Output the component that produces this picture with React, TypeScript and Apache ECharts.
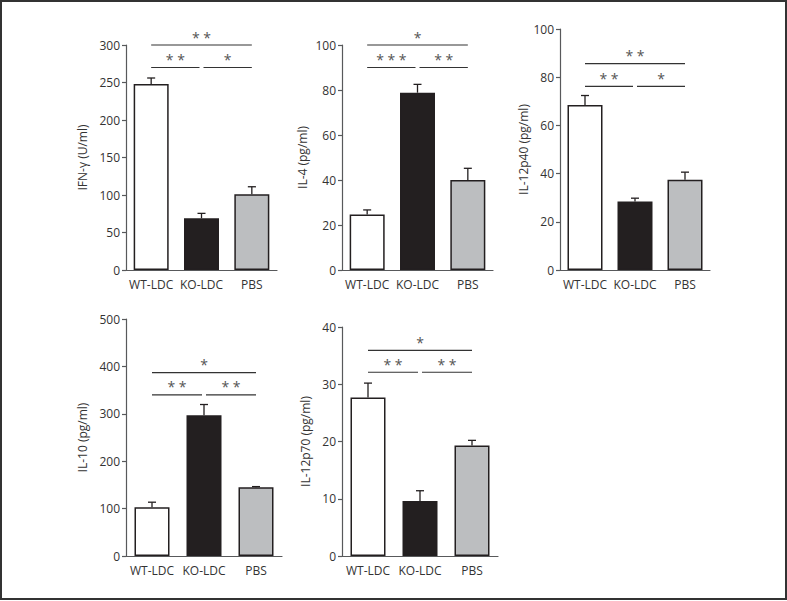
import React, { useEffect, useRef } from "react";
import * as echarts from "echarts";

const categories = ["WT-LDC", "KO-LDC", "PBS"];
const barColors = ["#ffffff", "#231f20", "#bcbec0"];

const yNames = ["IFN-γ (U/ml)", "IL-4 (pg/ml)", "IL-12p40 (pg/ml)", "IL-10 (pg/ml)", "IL-12p70 (pg/ml)"];
const yMax = [300, 100, 100, 500, 40];
const yInterval = [50, 20, 20, 100, 10];

const ifnMeans = [248, 69, 101];
const ifnSem = [8, 6.5, 10];
const il4Means = [24.7, 78.8, 40];
const il4Sem = [2, 3.7, 5.2];
const il12p40Means = [68.5, 28.4, 37.4];
const il12p40Sem = [3.9, 1.4, 3.2];
const il10Means = [103, 297, 145];
const il10Sem = [10.5, 22.6, 1.4];
const il12p70Means = [27.7, 9.6, 19.3];
const il12p70Sem = [2.5, 1.8, 0.9];

const means = [ifnMeans, il4Means, il12p40Means, il10Means, il12p70Means];
const sems = [ifnSem, il4Sem, il12p40Sem, il10Sem, il12p70Sem];

// significance brackets: [from, to, y, label]
const ifnSig: [number, number, number, string][] = [[0, 2, 300, "**"], [0, 1, 270, "**"], [1, 2, 270, "*"]];
const il4Sig: [number, number, number, string][] = [[0, 2, 100, "*"], [0, 1, 90, "***"], [1, 2, 90, "**"]];
const il12p40Sig: [number, number, number, string][] = [[0, 2, 85.6, "**"], [0, 1, 76.2, "**"], [1, 2, 76.2, "*"]];
const il10Sig: [number, number, number, string][] = [[0, 2, 387, "*"], [0, 1, 340, "**"], [1, 2, 340, "**"]];
const il12p70Sig: [number, number, number, string][] = [[0, 2, 35.9, "*"], [0, 1, 32.1, "**"], [1, 2, 32.1, "**"]];
const sigs = [ifnSig, il4Sig, il12p40Sig, il10Sig, il12p70Sig];

const grids = [
  { left: 126, top: 45, width: 151, height: 225 },
  { left: 342, top: 45, width: 151, height: 225 },
  { left: 560, top: 29, width: 150, height: 241 },
  { left: 126, top: 319, width: 156, height: 237 },
  { left: 342, top: 327, width: 156, height: 229 },
];
const nameGaps = [38, 34, 31, 38, 31];

const FONT = "Open Sans";
const AXIS = "#58595b";
const TEXT = "#333333";

export default function App() {
  const ref = useRef<HTMLDivElement>(null);
  useEffect(() => {
    if (!ref.current) return;
    const chart = echarts.init(ref.current, null, { renderer: "svg" });
    const xAxes: any[] = [];
    const yAxes: any[] = [];
    const series: any[] = [];
    grids.forEach((g, i) => {
      xAxes.push({
        type: "category",
        gridIndex: i,
        data: categories,
        axisLine: { lineStyle: { color: AXIS, width: 1.2 } },
        axisTick: { alignWithLabel: true, length: 4, lineStyle: { color: AXIS, width: 1.2 } },
        axisLabel: { interval: 0, fontFamily: FONT, fontSize: 12, color: TEXT, margin: 8 },
      });
      yAxes.push({
        type: "value",
        gridIndex: i,
        min: 0,
        max: yMax[i],
        interval: yInterval[i],
        name: yNames[i],
        nameLocation: "middle",
        nameGap: nameGaps[i],
        nameTextStyle: { fontFamily: FONT, fontSize: 12, color: TEXT },
        splitLine: { show: false },
        axisLine: { show: true, lineStyle: { color: AXIS, width: 1.2 } },
        axisTick: { show: true, length: 4, lineStyle: { color: AXIS, width: 1.2 } },
        axisLabel: { fontFamily: FONT, fontSize: 12, color: TEXT, margin: 6 },
      });
      series.push({
        type: "bar",
        xAxisIndex: i,
        yAxisIndex: i,
        barWidth: 35,
        data: means[i].map((v, k) => ({
          value: v,
          itemStyle: { color: barColors[k], borderColor: "#231f20", borderWidth: 1.5 },
        })),
        z: 2,
      });
      series.push({
        type: "custom",
        xAxisIndex: i,
        yAxisIndex: i,
        data: means[i].map((v, k) => [k, v, v + sems[i][k]]),
        encode: { x: 0, y: [1, 2] },
        z: 1,
        renderItem: (params: any, api: any) => {
          const x = api.value(0);
          const base = api.coord([x, api.value(1)]);
          const top = api.coord([x, api.value(2)]);
          const style = { stroke: "#231f20", lineWidth: 1.3 };
          return {
            type: "group",
            children: [
              { type: "line", shape: { x1: base[0], y1: base[1], x2: top[0], y2: top[1] }, style },
              { type: "line", shape: { x1: top[0] - 4, y1: top[1], x2: top[0] + 4, y2: top[1] }, style },
            ],
          };
        },
      });
      const sig = sigs[i];
      series.push({
        type: "custom",
        xAxisIndex: i,
        yAxisIndex: i,
        data: sig.map((s) => [s[0], s[1], s[2]]),
        encode: { x: [0, 1], y: 2 },
        z: 3,
        renderItem: (params: any, api: any) => {
          const from = api.value(0);
          const to = api.value(1);
          const yv = api.value(2);
          const p1 = api.coord([from, yv]);
          const p2 = api.coord([to, yv]);
          const x1 = p1[0] + (from > 0 ? 2 : 0);
          const x2 = p2[0] - (to < 2 ? 2 : 0);
          const label = sig[params.dataIndex][3];
          return {
            type: "group",
            children: [
              { type: "line", shape: { x1, y1: p1[1], x2, y2: p2[1] }, style: { stroke: "#333", lineWidth: 1.2 } },
              {
                type: "text",
                x: (x1 + x2) / 2,
                y: p1[1] - 1,
                style: {
                  text: label.split("").join(" "),
                  fontFamily: FONT,
                  fontSize: 14,
                  fill: "#555",
                  align: "center",
                  verticalAlign: "bottom",
                },
              },
            ],
          };
        },
      });
    });
    chart.setOption({
      animation: false,
      backgroundColor: "#ffffff",
      grid: grids.map((g) => ({ ...g, containLabel: false })),
      xAxis: xAxes,
      yAxis: yAxes,
      series,
      graphic: [
        {
          type: "rect",
          shape: { x: 1, y: 1, width: 785, height: 598 },
          style: { fill: "none", stroke: "#333", lineWidth: 2 },
          silent: true,
        },
      ],
    });
    return () => chart.dispose();
  }, []);
  return <div ref={ref} style={{ position: "fixed", left: 0, top: 0, width: 787, height: 601 }} />;
}
